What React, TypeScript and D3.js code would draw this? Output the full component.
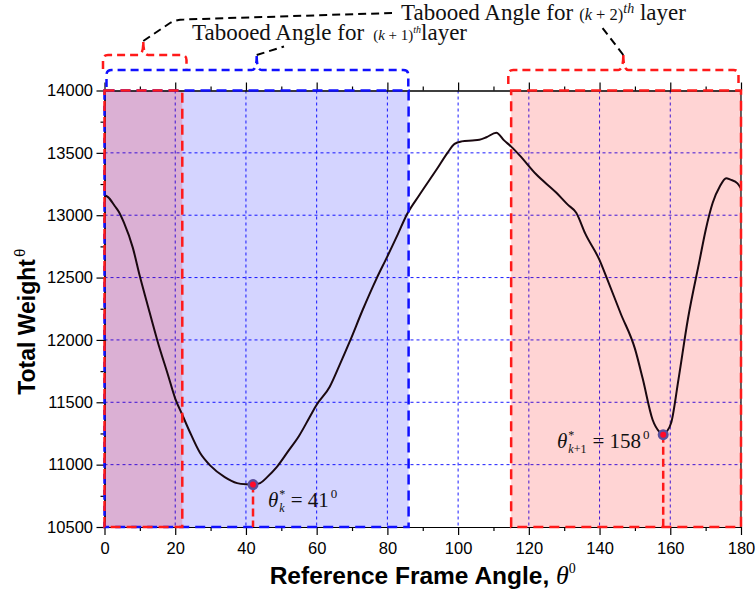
import React, { useEffect, useRef } from 'react';
import * as d3 from 'd3';

// curve (reference frame angle in degrees, total weight)
const angles = [0, 1, 3, 4, 5.5, 8, 10, 12, 15, 18, 20, 22, 24, 27, 30, 34, 37.5, 40, 42, 44, 46, 48.7, 52, 55, 58, 60, 63.7, 66.5, 69.4, 73, 76.9, 80, 83, 85.4, 89, 94, 97, 99, 101, 104, 106, 108, 110.8, 113, 115, 117.4, 122, 127.8, 131, 133.4, 136, 140, 142, 146, 150, 152.2, 155, 157, 158, 159, 160.3, 162.3, 165, 168.3, 170, 172, 174, 175.8, 177, 179, 180];
const weights = [13160, 13145, 13070, 13030, 12940, 12740, 12510, 12300, 11990, 11715, 11530, 11400, 11270, 11095, 10990, 10900, 10852, 10842, 10840, 10852, 10900, 10980, 11110, 11230, 11380, 11480, 11625, 11800, 11990, 12240, 12490, 12670, 12850, 13000, 13160, 13370, 13500, 13572, 13592, 13600, 13605, 13625, 13662, 13600, 13550, 13480, 13330, 13180, 13085, 13020, 12850, 12640, 12500, 12210, 11930, 11690, 11360, 11260, 11240, 11265, 11340, 11680, 12170, 12640, 12880, 13100, 13230, 13297, 13285, 13255, 13215];

const xTicks = [0, 20, 40, 60, 80, 100, 120, 140, 160, 180];
const xMinor = [10, 30, 50, 70, 90, 110, 130, 150, 170];
const yTicks = [10500, 11000, 11500, 12000, 12500, 13000, 13500, 14000];
const yMinor = [10750, 11250, 11750, 12250, 12750, 13250, 13750];

// tabooed ranges
const blueRange = [0, 86]; // (k+1)th layer
const redRanges = [[0, 22], [115, 180]]; // (k+2)th layer

// optimum points
const optAngles = [42, 158];
const optWeights = [10840, 11240];

const W = 756;
const H = 595;
const SERIF = '"Liberation Serif", "Times New Roman", serif';
const SANS = '"Liberation Sans", Arial, sans-serif';

const App = () => {
    const svgRef = useRef<SVGSVGElement>(null);

    useEffect(() => {
        const svg = d3.select(svgRef.current);
        svg.selectAll('*').remove();

        const x = d3.scaleLinear().domain([0, 180]).range([104.5, 741]);
        const y = d3.scaleLinear().domain([10500, 14000]).range([527, 90.5]);
        const x0 = x(0), x1 = x(180), y0 = y(10500), y1 = y(14000);

        // grid
        const grid = svg.append('g').attr('stroke', '#1a1aff').attr('stroke-width', 1).attr('stroke-dasharray', '3,3');
        grid.selectAll('line.v').data(xTicks.slice(1, -1)).join('line')
            .attr('x1', d => x(d)).attr('x2', d => x(d)).attr('y1', y1).attr('y2', y0);
        grid.selectAll('line.h').data(yTicks.slice(1, -1)).join('line')
            .attr('x1', x0).attr('x2', x1).attr('y1', d => y(d)).attr('y2', d => y(d));

        // fills
        svg.append('rect')
            .attr('x', x(blueRange[0])).attr('y', y1)
            .attr('width', x(blueRange[1]) - x(blueRange[0])).attr('height', y0 - y1)
            .attr('fill', 'rgb(0,0,255)').attr('fill-opacity', 0.17);
        svg.selectAll('rect.red').data(redRanges).join('rect')
            .attr('x', d => x(d[0])).attr('y', y1)
            .attr('width', d => x(d[1]) - x(d[0])).attr('height', y0 - y1)
            .attr('fill', 'rgb(255,0,0)').attr('fill-opacity', 0.17);

        // curve
        const line = d3.line<number>()
            .x((_, i) => x(angles[i]))
            .y(d => y(d))
            .curve(d3.curveMonotoneX);
        svg.append('path').datum(weights)
            .attr('d', line)
            .attr('fill', 'none')
            .attr('stroke', '#1a0810')
            .attr('stroke-width', 2);

        // axes
        const tickFont = (g: any) => g.selectAll('text').attr('font-family', SANS).attr('font-size', 16.5).attr('fill', '#000');
        svg.append('g').attr('transform', `translate(0,${y0})`)
            .call(d3.axisBottom(x).tickValues(xMinor).tickSize(4).tickFormat(() => '').tickSizeOuter(0));
        svg.append('g').attr('transform', `translate(0,${y0})`)
            .call(d3.axisBottom(x).tickValues(xTicks).tickSize(8).tickPadding(7).tickSizeOuter(0))
            .call(tickFont);
        svg.append('g').attr('transform', `translate(0,${y1})`)
            .call(d3.axisTop(x).tickValues(xMinor).tickSize(4).tickFormat(() => '').tickSizeOuter(0));
        svg.append('g').attr('transform', `translate(0,${y1})`)
            .call(d3.axisTop(x).tickValues(xTicks).tickSize(8).tickFormat(() => '').tickSizeOuter(0));
        svg.append('g').attr('transform', `translate(${x0},0)`)
            .call(d3.axisLeft(y).tickValues(yMinor).tickSize(4).tickFormat(() => '').tickSizeOuter(0));
        svg.append('g').attr('transform', `translate(${x0},0)`)
            .call(d3.axisLeft(y).tickValues(yTicks).tickSize(8).tickPadding(3.5).tickFormat(d3.format('d')).tickSizeOuter(0))
            .call(tickFont);
        svg.append('line').attr('x1', x1).attr('x2', x1).attr('y1', y1).attr('y2', y0)
            .attr('stroke', '#000').attr('stroke-width', 1.2);
        svg.selectAll('.domain').attr('stroke-width', 1.2);
        svg.selectAll('.tick line').attr('stroke-width', 1.2);

        // dashed region borders
        svg.append('rect')
            .attr('x', x(blueRange[0])).attr('y', y1)
            .attr('width', x(blueRange[1]) - x(blueRange[0])).attr('height', y0 - y1)
            .attr('fill', 'none').attr('stroke', '#1010ff').attr('stroke-width', 2.5).attr('stroke-dasharray', '10,6');
        svg.selectAll('rect.redb').data(redRanges).join('rect')
            .attr('x', d => x(d[0])).attr('y', y1)
            .attr('width', d => x(d[1]) - x(d[0])).attr('height', y0 - y1)
            .attr('fill', 'none').attr('stroke', '#ff1a1a').attr('stroke-width', 2.5).attr('stroke-dasharray', '10,6');

        // optimum drop lines and markers
        svg.selectAll('line.drop').data(optAngles).join('line')
            .attr('x1', d => x(d)).attr('x2', d => x(d))
            .attr('y1', (_, i) => y(optWeights[i])).attr('y2', y0)
            .attr('stroke', '#ff1a1a').attr('stroke-width', 2.5).attr('stroke-dasharray', '8,4');
        svg.selectAll('circle.outer').data(optAngles).join('circle')
            .attr('cx', d => x(d)).attr('cy', (_, i) => y(optWeights[i])).attr('r', 5.5)
            .attr('fill', '#5a4f9c');
        svg.selectAll('circle.inner').data(optAngles).join('circle')
            .attr('cx', d => x(d)).attr('cy', (_, i) => y(optWeights[i])).attr('r', 3)
            .attr('fill', '#ff0a2a');

        // annotation labels for optima
        const optLabel = (tx: number, ty: number, sub: string[], val: string) => {
            const t = svg.append('text').attr('x', tx).attr('y', ty)
                .attr('font-family', SERIF).attr('font-size', 21).attr('fill', '#111');
            t.append('tspan').attr('font-style', 'italic').text('θ');
            t.append('tspan').attr('font-size', 12).attr('dy', -9).attr('dx', 1).text('*');
            t.append('tspan').attr('font-size', 12).attr('font-style', 'italic').attr('dx', -6).attr('dy', 14).text(sub[0]);
            if (sub[1]) t.append('tspan').attr('font-size', 12).text(sub[1]);
            t.append('tspan').attr('dy', -5).attr('dx', 6).text('= ' + val);
            t.append('tspan').attr('font-size', 13).attr('dy', -9).attr('dx', 2).text('0');
        };
        optLabel(268, 507, ['k'], '41');
        optLabel(557, 448, ['k', '+1'], '158');

        // brackets on top
        const brace = (a: number, b: number, m: number, top: number, bottom: number, tip: number) => {
            const r = 5;
            return `M${a},${bottom} L${a},${top + r} Q${a},${top} ${a + r},${top} L${m - r},${top} Q${m},${top} ${m},${tip}` +
                ` M${m},${tip} Q${m},${top} ${m + r},${top} L${b - r},${top} Q${b},${top} ${b},${top + r} L${b},${bottom}`;
        };
        svg.append('path').attr('d', brace(103, 186.5, 143.3, 55, 69, 42))
            .attr('fill', 'none').attr('stroke', '#ff1a1a').attr('stroke-width', 2.5).attr('stroke-dasharray', '8,5');
        svg.append('path').attr('d', brace(106.5, 408.3, 256.7, 70, 87, 56))
            .attr('fill', 'none').attr('stroke', '#1010ff').attr('stroke-width', 2.5).attr('stroke-dasharray', '8,5');
        svg.append('path').attr('d', brace(508.3, 738.5, 623.3, 70, 84, 55))
            .attr('fill', 'none').attr('stroke', '#ff1a1a').attr('stroke-width', 2.5).attr('stroke-dasharray', '8,5');

        // leader lines
        const leaders = [
            'M143.3,41 L170,23 Q176,19.5 184,19.5 L392,13',
            'M256.7,55 L284,46.5',
            'M623.3,55 L601,26',
        ];
        svg.selectAll('path.leader').data(leaders).join('path')
            .attr('d', d => d).attr('fill', 'none')
            .attr('stroke', '#000').attr('stroke-width', 2).attr('stroke-dasharray', '8,5');

        // taboo labels
        const tabooLabel = (tx: number, ty: number, n: string, small: number, sup: number, gap: string, dx: number) => {
            const t = svg.append('text').attr('x', tx).attr('y', ty)
                .attr('font-family', SERIF).attr('font-size', 23).attr('fill', '#111');
            t.append('tspan').text('Tabooed Angle for');
            t.append('tspan').attr('dx', dx).attr('font-size', small).text('(');
            t.append('tspan').attr('font-size', small).attr('font-style', 'italic').text('k');
            t.append('tspan').attr('font-size', small).text(` + ${n})`);
            t.append('tspan').attr('font-size', sup).attr('font-style', 'italic').attr('dy', -7).text('th');
            t.append('tspan').attr('dy', 7).text(gap + 'layer');
        };
        tabooLabel(401, 20, '2', 16.5, 14, ' ', 6);
        tabooLabel(192, 40, '1', 15, 10, '', 9);

        // axis titles
        const xt = svg.append('text').attr('x', (x0 + x1) / 2).attr('y', 584)
            .attr('text-anchor', 'middle').attr('font-family', SANS).attr('font-weight', 'bold').attr('font-size', 24.5);
        xt.append('tspan').text('Reference Frame Angle, ');
        xt.append('tspan').attr('font-family', SERIF).attr('font-style', 'italic').attr('font-weight', 'normal').attr('font-size', 26).text('θ');
        xt.append('tspan').attr('font-family', SERIF).attr('font-weight', 'normal').attr('font-size', 14).attr('dy', -11).text('0');

        const yt = svg.append('text').attr('transform', `translate(35,${(y0 + y1) / 2 + 13}) rotate(-90)`)
            .attr('text-anchor', 'middle').attr('font-family', SANS).attr('font-weight', 'bold').attr('font-size', 23);
        yt.append('tspan').text('Total Weight');
        yt.append('tspan').attr('font-weight', 'normal').attr('font-size', 15).attr('dy', -10).attr('dx', 2).text('θ');
    }, []);

    return (
        <svg ref={svgRef} width={W} height={H} style={{ position: 'absolute', left: 0, top: 0, background: '#fff' }} />
    );
};

export default App;
